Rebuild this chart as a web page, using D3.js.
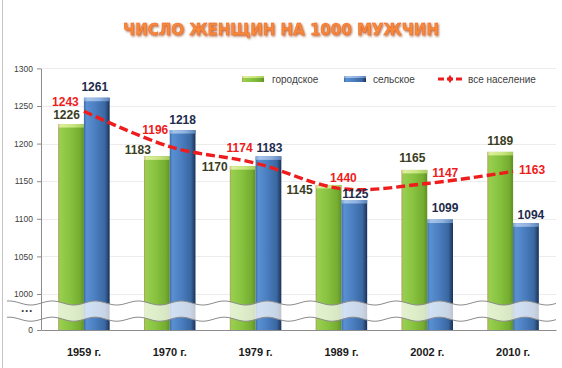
<!DOCTYPE html>
<html>
<head>
<meta charset="utf-8">
<script src="https://cdn.jsdelivr.net/npm/d3@7"></script>
<style>
  body { margin: 0; background: #fff; }
  svg { display: block; }
  text { font-family: "Liberation Sans", Arial, sans-serif; }
</style>
</head>
<body>
<div id="chart"></div>
<script>
const years = ["1959 г.", "1970 г.", "1979 г.", "1989 г.", "2002 г.", "2010 г."];
const urban = [1226, 1183, 1170, 1145, 1165, 1189];
const rural = [1261, 1218, 1183, 1125, 1099, 1094];
const total = [1243, 1196, 1174, 1140, 1147, 1163];
// label text as printed on the chart (1989 is misprinted there)
const totalLabels = ["1243", "1196", "1174", "1440", "1147", "1163"];
const yTicks = [0, 500, 1000, 1050, 1100, 1150, 1200, 1250, 1300];
const seriesNames = ["городское", "сельское", "все население"];
const title = "ЧИСЛО ЖЕНЩИН НА 1000 МУЖЧИН";

// label nudges, [dx, dy] from bar top / line point
const urbanNudge = [[-4.5, -9], [-19, -7], [-28, 1], [-29, 5], [-2, -12], [0, -11]];
const ruralNudge = [[-2, -11], [0, -10], [1, -9], [1, -6], [5, -12], [5, -9]];
const totalNudge = [[-18.5, -9.6], [-14.5, -16.6], [-16, -15], [2, -11], [18, -11], [19, -2]];

const W = 562, H = 368;
const left = 41, right = 556, bottom = 330;

var svg = d3.select("#chart").append("svg")
  .attr("width", W)
  .attr("height", H);

var defs = svg.append("defs");

function hGrad(id, stops) {
  var g = defs.append("linearGradient").attr("id", id)
    .attr("x1", "0").attr("x2", "1").attr("y1", "0").attr("y2", "0");
  stops.forEach(function(s) {
    g.append("stop").attr("offset", s[0]).attr("stop-color", s[1]);
  });
}
hGrad("gGreen", [["0%", "#b8915a"], ["6%", "#98cf50"], ["45%", "#88c340"], ["85%", "#74ac30"], ["100%", "#5e8f24"]]);
hGrad("gBlue", [["0%", "#3b6aa6"], ["10%", "#5a90d1"], ["45%", "#4a7ec0"], ["82%", "#3a67a0"], ["100%", "#1a3159"]]);
hGrad("gGreenCap", [["0%", "#d9c08a"], ["10%", "#dcef9e"], ["60%", "#c9e57f"], ["100%", "#a7cc5c"]]);
hGrad("gBlueCap", [["0%", "#7da3d6"], ["15%", "#a7c4ea"], ["60%", "#8fb2e0"], ["100%", "#5c84bb"]]);

var shadow = defs.append("filter").attr("id", "titleShadow")
  .attr("x", "-5%").attr("y", "-30%").attr("width", "110%").attr("height", "160%");
shadow.append("feDropShadow")
  .attr("dx", 1).attr("dy", 1.2).attr("stdDeviation", 0.9)
  .attr("flood-color", "#9a3a0c").attr("flood-opacity", 0.75);

// chart frame edge
svg.append("line")
  .attr("x1", 2.5).attr("x2", 2.5).attr("y1", 0).attr("y2", H)
  .attr("stroke", "#c4c4c4");

// title
svg.append("text")
  .attr("x", 281).attr("y", 35)
  .attr("text-anchor", "middle")
  .style("font-family", "'DejaVu Sans', sans-serif")
  .style("font-weight", "bold")
  .style("font-size", "15px")
  .attr("fill", "#f7893a")
  .attr("stroke", "#e8662a")
  .attr("stroke-width", 0.4)
  .attr("filter", "url(#titleShadow)")
  .text(title);

// scales
var x = d3.scaleBand().domain(years).range([left, right])
  .paddingInner(0.4).paddingOuter(0.2);
var xSub = d3.scaleBand().domain(["urban", "rural"]).range([0, x.bandwidth()]);
var y = d3.scaleLinear().domain([0, 1000, 1300]).range([bottom, 294, 68.4]);
var lineX = function(d) { return x(d) + x.bandwidth() / 2; };

// gridlines
svg.append("g").selectAll("line")
  .data(yTicks.filter(function(t) { return t >= 1000; }))
  .enter().append("line")
  .attr("x1", left).attr("x2", right)
  .attr("y1", function(d) { return Math.round(y(d)) + 0.5; })
  .attr("y2", function(d) { return Math.round(y(d)) + 0.5; })
  .attr("stroke", "#ececec");

// bars
var rows = years.map(function(yr, i) {
  return {year: yr, i: i, urban: urban[i], rural: rural[i]};
});

var groups = svg.append("g").selectAll("g")
  .data(rows).enter().append("g")
  .attr("transform", function(d) { return "translate(" + x(d.year) + ",0)"; });

[["urban", "gGreen", "gGreenCap"], ["rural", "gBlue", "gBlueCap"]].forEach(function(s) {
  var key = s[0];
  groups.append("rect")
    .attr("x", xSub(key))
    .attr("y", function(d) { return y(d[key]); })
    .attr("width", xSub.bandwidth())
    .attr("height", function(d) { return y(0) - y(d[key]); })
    .attr("fill", "url(#" + s[1] + ")");
  groups.append("rect")
    .attr("x", xSub(key))
    .attr("y", function(d) { return y(d[key]); })
    .attr("width", xSub.bandwidth())
    .attr("height", 3.5)
    .attr("fill", "url(#" + s[2] + ")");
});

// axis break band with wavy edges
var brkHi = y(750), brkLo = y(300);
var wave = function(base) {
  var pts = [];
  for (var px = 7; px <= right; px += 1) {
    pts.push([px, base + 2 * Math.sin((px - 20) / 43 * 2 * Math.PI)]);
  }
  return pts;
};
var upper = wave(brkHi), lower = wave(brkLo);
svg.append("path")
  .attr("d", d3.line()(upper.concat(lower.slice().reverse())) + "Z")
  .attr("fill", "#fff").attr("fill-opacity", 0.72);
[upper, lower].forEach(function(pts) {
  svg.append("path")
    .attr("d", d3.line()(pts))
    .attr("fill", "none")
    .attr("stroke", "#8c8c8c")
    .attr("stroke-width", 1);
});

// y axis
var yAxis = svg.append("g")
  .attr("transform", "translate(" + left + ",0)")
  .call(d3.axisLeft(y).tickValues(yTicks).tickSize(4).tickSizeOuter(0).tickPadding(4)
    .tickFormat(function(d) { return d === 500 ? "···" : d; }));
yAxis.select(".domain").attr("stroke", "#8c8c8c");
yAxis.selectAll(".tick line").attr("stroke", "#8c8c8c");
yAxis.selectAll(".tick").filter(function(d) { return d === 500; })
  .select("line").remove();
yAxis.selectAll(".tick text")
  .style("font-size", "8.5px")
  .attr("fill", "#404040");
yAxis.selectAll(".tick").filter(function(d) { return d === 500; })
  .select("text").style("font-size", "12px").style("font-weight", "bold").attr("dy", "0.2em");

// x axis
var xAxis = svg.append("g")
  .attr("transform", "translate(0," + bottom + ")")
  .call(d3.axisBottom(x).tickSize(0).tickPadding(18));
xAxis.select(".domain").attr("stroke", "#8c8c8c");
xAxis.selectAll(".tick text")
  .style("font-size", "11px")
  .style("font-weight", "bold")
  .attr("fill", "#1a1a1a");

// total population line
svg.append("path")
  .datum(total)
  .attr("fill", "none")
  .attr("stroke", "#ee1c1c")
  .attr("stroke-width", 3.4)
  .attr("stroke-dasharray", "9,4")
  .attr("d", d3.line()
    .x(function(d, i) { return lineX(years[i]); })
    .y(function(d) { return y(d); })
    .curve(d3.curveCatmullRom.alpha(0)));

// value labels
function valueLabels(vals, texts, nudge, cx, color) {
  svg.append("g").selectAll("text")
    .data(vals).enter().append("text")
    .attr("x", function(d, i) { return cx(i) + nudge[i][0]; })
    .attr("y", function(d, i) { return y(d) + nudge[i][1]; })
    .attr("dy", "0.36em")
    .attr("text-anchor", "middle")
    .style("font-size", "12px")
    .style("font-weight", "bold")
    .attr("fill", color)
    .text(function(d, i) { return texts[i]; });
}
valueLabels(urban, urban.map(String), urbanNudge,
  function(i) { return x(years[i]) + xSub("urban") + xSub.bandwidth() / 2; }, "#3a3d22");
valueLabels(rural, rural.map(String), ruralNudge,
  function(i) { return x(years[i]) + xSub("rural") + xSub.bandwidth() / 2; }, "#1d2c4c");
valueLabels(total, totalLabels, totalNudge,
  function(i) { return lineX(years[i]); }, "#ee1c1c");

// legend
var legend = svg.append("g");
var legY = 79;
legend.append("rect").attr("x", 242).attr("y", legY - 3).attr("width", 22).attr("height", 6)
  .attr("fill", "url(#gGreen)");
legend.append("rect").attr("x", 242).attr("y", legY - 3).attr("width", 22).attr("height", 2)
  .attr("fill", "url(#gGreenCap)");
legend.append("rect").attr("x", 344).attr("y", legY - 3).attr("width", 22).attr("height", 6)
  .attr("fill", "url(#gBlue)");
legend.append("rect").attr("x", 344).attr("y", legY - 3).attr("width", 22).attr("height", 2)
  .attr("fill", "url(#gBlueCap)");
legend.append("line").attr("x1", 438).attr("x2", 462).attr("y1", legY).attr("y2", legY)
  .attr("stroke", "#ee1c1c").attr("stroke-width", 3).attr("stroke-dasharray", "6,3");
legend.append("path").attr("d", d3.symbol().type(d3.symbolDiamond).size(22)())
  .attr("transform", "translate(450," + legY + ")")
  .attr("fill", "#ee1c1c");
legend.selectAll("text.leg")
  .data(seriesNames).enter().append("text")
  .attr("class", "leg")
  .attr("x", function(d, i) { return [272, 373, 468][i]; })
  .attr("y", legY)
  .attr("dy", "0.35em")
  .style("font-size", "10px")
  .attr("fill", "#404040")
  .text(function(d) { return d; });
</script>
</body>
</html>
